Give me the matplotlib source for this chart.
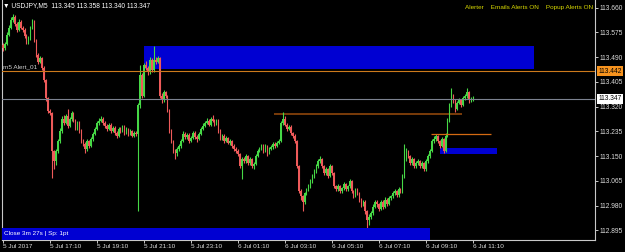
import numpy as np
import matplotlib
matplotlib.use('Agg')
import matplotlib.pyplot as plt
from matplotlib import font_manager
from matplotlib.patches import Rectangle

# MT4 uses a narrow font; take a narrow one if it's there
names = {f.name for f in font_manager.fontManager.ttflist}
if 'Liberation Sans Narrow' in names:
    fam, k = 'Liberation Sans Narrow', 1.2
else:
    fam, k = 'Liberation Sans', 1.0
plt.rcParams['font.family'] = [fam, 'DejaVu Sans']

# USDJPY M5 bars, 5 Jul 15:10 .. 6 Jul 11:10
first_open = 113.532
closes = [
    113.521, 113.535, 113.567, 113.591, 113.619, 113.629, 113.605, 113.584, 113.612, 113.591,
    113.584, 113.563, 113.542, 113.556, 113.591, 113.612, 113.549, 113.497, 113.473, 113.487,
    113.452, 113.410, 113.348, 113.306, 113.299, 113.168, 113.133, 113.168, 113.202, 113.237,
    113.279, 113.265, 113.289, 113.254, 113.279, 113.299, 113.272, 113.244, 113.265, 113.237,
    113.202, 113.192, 113.174, 113.202, 113.185, 113.209, 113.227, 113.244, 113.265, 113.272,
    113.279, 113.265, 113.254, 113.244, 113.258, 113.237, 113.247, 113.230, 113.220, 113.244,
    113.237, 113.251, 113.230, 113.244, 113.227, 113.237, 113.220, 113.230, 113.227, 113.324,
    113.428, 113.358, 113.463, 113.452, 113.438, 113.480, 113.445, 113.480, 113.473, 113.487,
    113.358, 113.341, 113.369, 113.355, 113.306, 113.237, 113.202, 113.168, 113.161, 113.174,
    113.185, 113.202, 113.227, 113.216, 113.223, 113.202, 113.213, 113.230, 113.216, 113.209,
    113.227, 113.244, 113.254, 113.265, 113.272, 113.258, 113.279, 113.272, 113.261, 113.272,
    113.237, 113.213, 113.220, 113.202, 113.213, 113.195, 113.202, 113.185, 113.174, 113.168,
    113.157, 113.116, 113.140, 113.133, 113.150, 113.126, 113.140, 113.116, 113.123, 113.150,
    113.168, 113.174, 113.185, 113.168, 113.185, 113.161, 113.174, 113.181, 113.192, 113.185,
    113.195, 113.202, 113.265, 113.279, 113.258, 113.244, 113.251, 113.230, 113.220, 113.202,
    113.116, 113.029, 113.012, 112.994, 113.022, 113.036, 113.046, 113.064, 113.081, 113.098,
    113.116, 113.133, 113.140, 113.116, 113.091, 113.105, 113.081, 113.116, 113.091, 113.046,
    113.036, 113.046, 113.029, 113.039, 113.053, 113.036, 113.046, 113.064, 113.029, 113.012,
    113.036, 113.022, 113.001, 112.984, 112.994, 112.960, 112.932, 112.942, 112.953, 112.977,
    112.994, 112.984, 112.970, 112.994, 112.977, 113.001, 112.987, 113.005, 113.012, 113.022,
    113.029, 113.015, 113.036, 113.029, 113.081, 113.140, 113.168, 113.150, 113.126, 113.140,
    113.116, 113.126, 113.133, 113.116, 113.126, 113.105, 113.133, 113.150, 113.168, 113.202,
    113.209, 113.220, 113.202, 113.185, 113.209, 113.168, 113.220, 113.272, 113.324, 113.358,
    113.341, 113.313, 113.334, 113.341, 113.327, 113.348, 113.355, 113.369, 113.341, 113.345,
    113.347]
highs = [
    113.540, 113.542, 113.575, 113.600, 113.628, 113.638, 113.634, 113.610, 113.620, 113.617,
    113.598, 113.590, 113.568, 113.562, 113.597, 113.622, 113.617, 113.553, 113.503, 113.494,
    113.491, 113.458, 113.415, 113.352, 113.313, 113.303, 113.172, 113.175, 113.210, 113.245,
    113.288, 113.290, 113.296, 113.313, 113.285, 113.305, 113.303, 113.276, 113.272, 113.270,
    113.242, 113.208, 113.198, 113.208, 113.207, 113.215, 113.233, 113.250, 113.272, 113.280,
    113.287, 113.284, 113.270, 113.259, 113.264, 113.262, 113.254, 113.252, 113.235, 113.250,
    113.249, 113.257, 113.256, 113.250, 113.248, 113.243, 113.241, 113.236, 113.235, 113.331,
    113.463, 113.435, 113.470, 113.475, 113.458, 113.490, 113.486, 113.528, 113.492, 113.495,
    113.492, 113.365, 113.378, 113.374, 113.360, 113.312, 113.242, 113.207, 113.175, 113.180,
    113.192, 113.208, 113.235, 113.232, 113.230, 113.228, 113.220, 113.236, 113.235, 113.222,
    113.233, 113.250, 113.262, 113.272, 113.280, 113.277, 113.285, 113.292, 113.277, 113.278,
    113.276, 113.242, 113.227, 113.225, 113.219, 113.217, 113.208, 113.206, 113.190, 113.180,
    113.173, 113.162, 113.146, 113.146, 113.156, 113.154, 113.146, 113.145, 113.130, 113.156,
    113.175, 113.182, 113.192, 113.190, 113.193, 113.189, 113.180, 113.188, 113.199, 113.197,
    113.201, 113.209, 113.272, 113.303, 113.288, 113.262, 113.258, 113.256, 113.234, 113.225,
    113.207, 113.120, 113.036, 113.018, 113.028, 113.042, 113.053, 113.070, 113.088, 113.106,
    113.122, 113.140, 113.150, 113.145, 113.120, 113.112, 113.110, 113.124, 113.120, 113.096,
    113.052, 113.053, 113.050, 113.045, 113.060, 113.058, 113.052, 113.070, 113.068, 113.034,
    113.042, 113.040, 113.027, 113.006, 113.000, 112.999, 112.965, 112.950, 112.960, 112.984,
    113.001, 112.999, 112.988, 113.000, 112.998, 113.008, 113.006, 113.012, 113.018, 113.029,
    113.036, 113.034, 113.043, 113.041, 113.088, 113.192, 113.178, 113.172, 113.155, 113.147,
    113.144, 113.133, 113.140, 113.138, 113.132, 113.130, 113.139, 113.157, 113.175, 113.208,
    113.218, 113.226, 113.224, 113.207, 113.215, 113.213, 113.228, 113.280, 113.332, 113.383,
    113.362, 113.346, 113.340, 113.348, 113.346, 113.355, 113.362, 113.383, 113.372, 113.352,
    113.358]
lows = [
    113.512, 113.515, 113.530, 113.562, 113.585, 113.612, 113.598, 113.577, 113.580, 113.585,
    113.575, 113.556, 113.535, 113.536, 113.550, 113.586, 113.542, 113.490, 113.466, 113.468,
    113.447, 113.404, 113.340, 113.298, 113.290, 113.074, 113.105, 113.120, 113.160, 113.196,
    113.230, 113.258, 113.260, 113.248, 113.250, 113.272, 113.266, 113.238, 113.240, 113.230,
    113.196, 113.185, 113.160, 113.168, 113.178, 113.180, 113.203, 113.222, 113.240, 113.258,
    113.266, 113.258, 113.248, 113.236, 113.240, 113.230, 113.232, 113.224, 113.212, 113.216,
    113.230, 113.232, 113.222, 113.226, 113.220, 113.222, 113.214, 113.215, 113.220, 112.963,
    113.315, 113.350, 113.352, 113.446, 113.430, 113.433, 113.440, 113.440, 113.466, 113.468,
    113.348, 113.334, 113.336, 113.348, 113.300, 113.230, 113.195, 113.160, 113.140, 113.150,
    113.168, 113.178, 113.198, 113.210, 113.208, 113.196, 113.197, 113.208, 113.210, 113.200,
    113.204, 113.222, 113.240, 113.250, 113.260, 113.252, 113.254, 113.266, 113.255, 113.256,
    113.230, 113.206, 113.207, 113.196, 113.198, 113.190, 113.188, 113.178, 113.168, 113.160,
    113.150, 113.110, 113.070, 113.125, 113.128, 113.120, 113.120, 113.110, 113.105, 113.118,
    113.146, 113.163, 113.170, 113.162, 113.164, 113.150, 113.156, 113.170, 113.176, 113.178,
    113.180, 113.190, 113.198, 113.258, 113.252, 113.236, 113.238, 113.222, 113.212, 113.195,
    113.108, 113.022, 113.000, 112.960, 112.985, 113.015, 113.030, 113.040, 113.058, 113.075,
    113.092, 113.110, 113.128, 113.110, 113.085, 113.086, 113.074, 113.077, 113.084, 113.040,
    113.030, 113.031, 113.022, 113.024, 113.034, 113.030, 113.031, 113.041, 113.022, 113.005,
    113.008, 113.015, 112.994, 112.976, 112.978, 112.952, 112.897, 112.915, 112.935, 112.948,
    112.972, 112.976, 112.963, 112.966, 112.970, 112.972, 112.980, 112.982, 113.000, 113.007,
    113.017, 113.008, 113.011, 113.022, 113.024, 113.076, 113.133, 113.143, 113.119, 113.120,
    113.108, 113.110, 113.120, 113.109, 113.110, 113.098, 113.100, 113.128, 113.145, 113.163,
    113.196, 113.203, 113.195, 113.178, 113.180, 113.160, 113.163, 113.215, 113.266, 113.318,
    113.334, 113.300, 113.308, 113.328, 113.320, 113.322, 113.342, 113.350, 113.334, 113.336,
    113.340]

time_labels = ['5 Jul 2017', '5 Jul 17:10', '5 Jul 19:10', '5 Jul 21:10', '5 Jul 23:10',
               '6 Jul 01:10', '6 Jul 03:10', '6 Jul 05:10', '6 Jul 07:10', '6 Jul 09:10',
               '6 Jul 11:10']
price_ticks = [113.660, 113.575, 113.490, 113.405, 113.320, 113.235,
               113.150, 113.065, 112.980, 112.895]

alert_level = 113.442
bid = 113.347
# zones: (start bar, end bar, low, high)
upper_zone = (72.0, 271.2, 113.449, 113.528)
lower_zone = (223.2, 252.3, 113.156, 113.179)
brown_level = (138.4, 234.4, 113.296)
orange_level = (218.4, 249.2, 113.225)

bull = '#46d846'
bear = '#ee5a5a'
frame = '#c8c8c8'

opens = [first_open] + closes[:-1]
x = np.arange(len(closes))
o = np.array(opens)
c = np.array(closes)
up = c >= o
cols = np.where(up, bull, bear)

fig = plt.figure(figsize=(6.25, 2.52), dpi=100, facecolor='black')
ax = fig.add_axes([2/625, 12/252, 593/625, 240/252])
ax.set_facecolor('black')
ax.set_xlim(-0.51, 302.35)
ax.set_ylim(112.862, 113.686)

# zones
ax.add_patch(Rectangle((upper_zone[0], upper_zone[2]), upper_zone[1] - upper_zone[0],
                       upper_zone[3] - upper_zone[2], color='#0000d2', lw=0, zorder=1))
ax.add_patch(Rectangle((lower_zone[0], lower_zone[2]), lower_zone[1] - lower_zone[0],
                       lower_zone[3] - lower_zone[2], color='#0000d2', lw=0, zorder=1))

# candles
ax.vlines(x, lows, highs, colors=cols, lw=0.8, zorder=3)
body = np.where(np.abs(c - o) < 0.0015, 0.0015, c - o)
ax.bar(x, body, bottom=o, width=0.78, color=cols, lw=0, zorder=3)

# levels
ax.axhline(alert_level, color='#cc7a1c', lw=0.8, zorder=4)
ax.axhline(bid, color='#7c8290', lw=0.8, zorder=4)
ax.hlines(brown_level[2], brown_level[0], brown_level[1], color='#7a3c0a', lw=1.4, zorder=2)
ax.hlines(orange_level[2], orange_level[0], orange_level[1], color='#d46a12', lw=0.9, zorder=4)

# countdown label band
ax.add_patch(Rectangle((-0.51, 112.862), 218.5, 112.903 - 112.862,
                       color='#0000d2', lw=0, zorder=5))
fig.text(4/625, 1 - 234/252, 'Close 3m 27s | Sp: 1pt', color='white',
         fontsize=4.6 * k, va='center')

# axes styling
for s in ['left', 'bottom', 'right']:
    ax.spines[s].set_color(frame)
    ax.spines[s].set_linewidth(0.8)
ax.spines['top'].set_visible(False)

ax.yaxis.tick_right()
ax.set_yticks(price_ticks)
ax.set_yticklabels(['%.3f' % p for p in price_ticks])
ax.tick_params(axis='y', colors=frame, labelcolor='#dcdcdc', length=2, width=0.7,
               labelsize=4.8 * k, pad=1.2)

ax.set_xticks(np.arange(0, 241, 24))
ax.set_xticklabels(time_labels)
for lab in ax.get_xticklabels():
    lab.set_horizontalalignment('left')
ax.tick_params(axis='x', colors=frame, labelcolor='#dcdcdc', length=2, width=0.7,
               labelsize=4.6 * k, pad=1)

# highlighted price labels
for lvl, bg in [(alert_level, '#f7931e'), (bid, 'white')]:
    ax.annotate('%.3f' % lvl, xy=(1.0, lvl), xycoords=('axes fraction', 'data'),
                xytext=(2.2, 0), textcoords='offset points', va='center', ha='left',
                fontsize=4.8 * k, color='black', zorder=6, annotation_clip=False,
                bbox=dict(boxstyle='square,pad=0.2', fc=bg, ec='none'))

# header texts
fig.text(3/625, 1 - 6/252, '\u25bc USDJPY,M5  113.345 113.358 113.340 113.347',
         color='white', fontsize=4.8 * k, va='center')
fig.text(593/625, 1 - 7/252, 'Alerter    Emails Alerts ON    Popup Alerts ON',
         color='#d8d800', fontsize=4.6 * k, va='center', ha='right')
fig.text(3/625, 1 - 67/252, 'm5 Alert_01', color='#d0d0d0', fontsize=4.6 * k, va='center')

fig.savefig('out.png', dpi=100, facecolor='black')
